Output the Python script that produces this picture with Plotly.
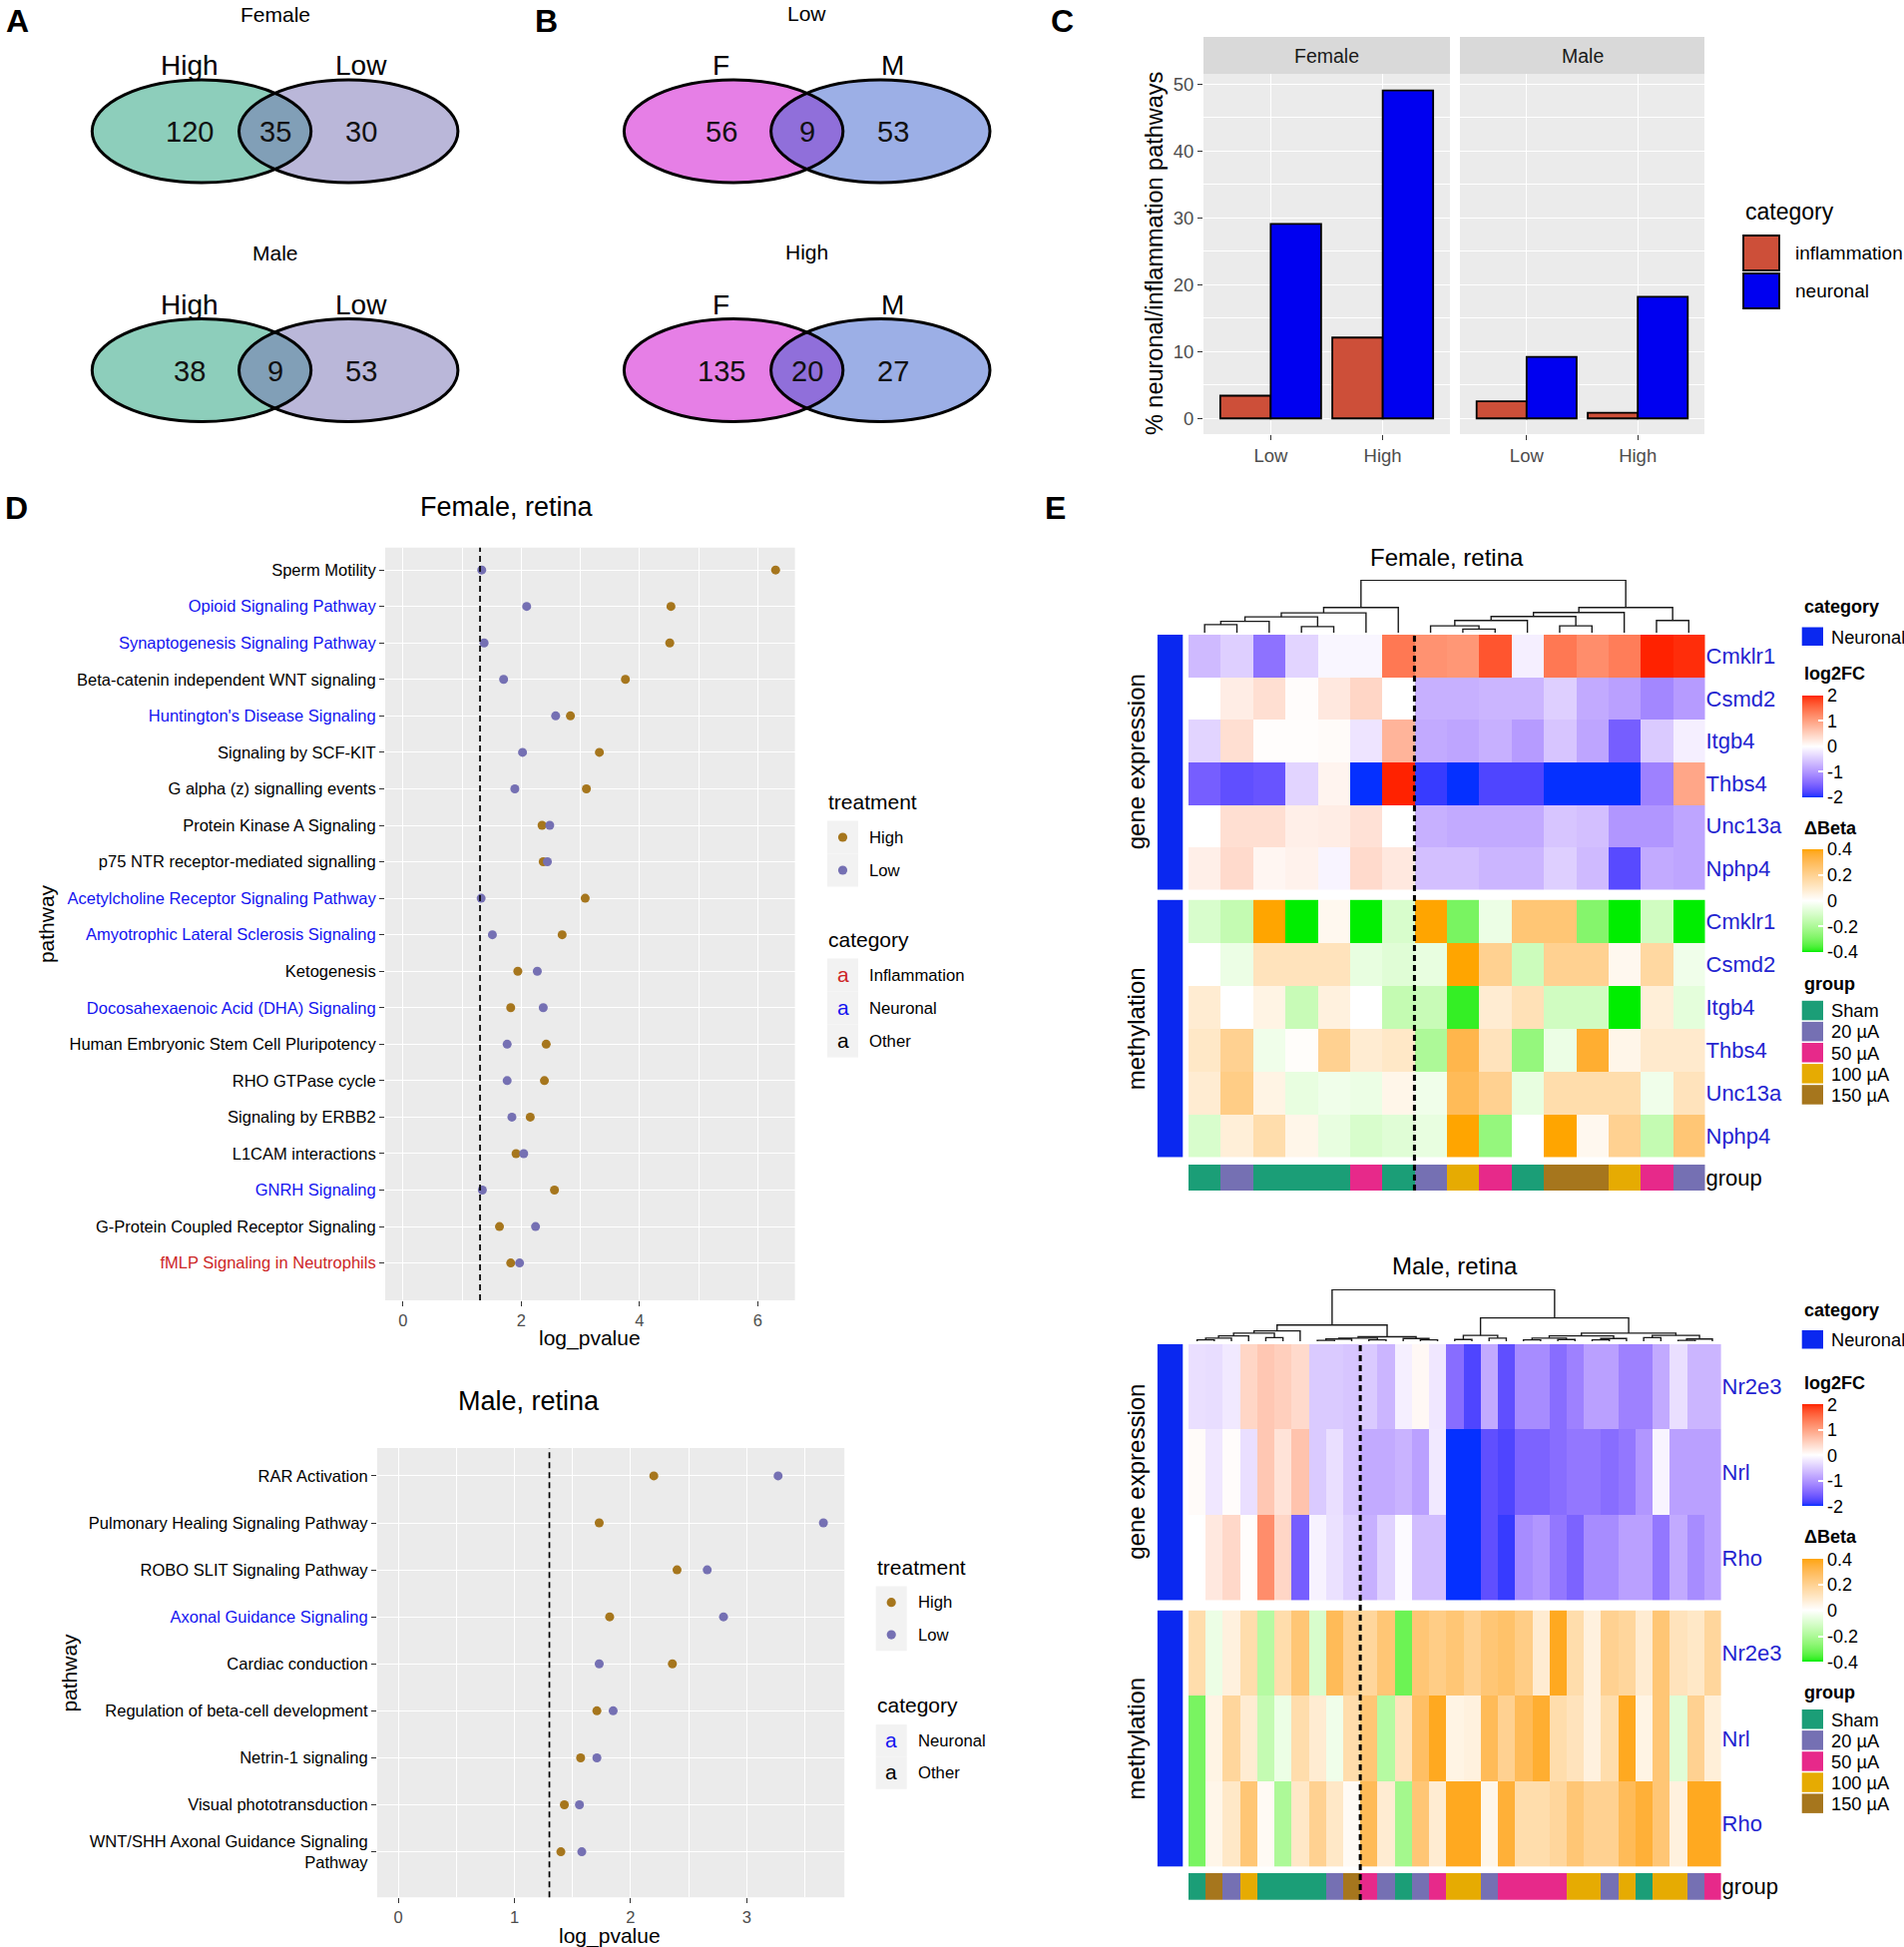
import textwrap
import numpy as np
import plotly.graph_objects as go

# ===================== DATA =====================
# Panel A: Venn counts [only-left, overlap, only-right]
A_TITLES = ["Female", "Male"]
A_SETS = ["High", "Low"]
A_FEMALE_COUNTS = [120, 35, 30]
A_MALE_COUNTS = [38, 9, 53]
# Panel B
B_TITLES = ["Low", "High"]
B_SETS = ["F", "M"]
B_LOW_COUNTS = [56, 9, 53]
B_HIGH_COUNTS = [135, 20, 27]

# Panel C: % neuronal / inflammation pathways
C_FACETS = ["Female", "Male"]
C_DOSES = ["Low", "High"]
C_CATEGORIES = ["inflammation", "neuronal"]
C_FEMALE_INFLAMMATION = [3.4, 12.1]
C_FEMALE_NEURONAL = [29.1, 49.1]
C_MALE_INFLAMMATION = [2.55, 0.85]
C_MALE_NEURONAL = [9.2, 18.2]

# Panel D: pathway enrichment (-log10 p)
P_CUTOFF = 0.05
DF_PATHWAYS = ["Sperm Motility", "Opioid Signaling Pathway", "Synaptogenesis Signaling Pathway",
               "Beta-catenin independent WNT signaling", "Huntington's Disease Signaling",
               "Signaling by SCF-KIT", "G alpha (z) signalling events", "Protein Kinase A Signaling",
               "p75 NTR receptor-mediated signalling", "Acetylcholine Receptor Signaling Pathway",
               "Amyotrophic Lateral Sclerosis Signaling", "Ketogenesis",
               "Docosahexaenoic Acid (DHA) Signaling", "Human Embryonic Stem Cell Pluripotency",
               "RHO GTPase cycle", "Signaling by ERBB2", "L1CAM interactions", "GNRH Signaling",
               "G-Protein Coupled Receptor Signaling", "fMLP Signaling in Neutrophils"]
DF_CATEGORY = ["Other", "Neuronal", "Neuronal", "Other", "Neuronal", "Other", "Other", "Other", "Other",
               "Neuronal", "Neuronal", "Other", "Neuronal", "Other", "Other", "Other", "Other",
               "Neuronal", "Other", "Inflammation"]
DF_HIGH = [6.30, 4.53, 4.51, 3.76, 2.83, 3.32, 3.10, 2.35, 2.37, 3.08, 2.69, 1.94, 1.82, 2.42, 2.39,
           2.15, 1.91, 2.56, 1.63, 1.82]
DF_LOW = [1.33, 2.09, 1.37, 1.70, 2.58, 2.02, 1.89, 2.48, 2.44, 1.32, 1.51, 2.27, 2.37, 1.76, 1.76,
          1.84, 2.04, 1.34, 2.24, 1.97]

DM_PATHWAYS = ["RAR Activation", "Pulmonary Healing Signaling Pathway", "ROBO SLIT Signaling Pathway",
               "Axonal Guidance Signaling", "Cardiac conduction", "Regulation of beta-cell development",
               "Netrin-1 signaling", "Visual phototransduction",
               "WNT/SHH Axonal Guidance Signaling Pathway"]
DM_CATEGORY = ["Other", "Other", "Other", "Neuronal", "Other", "Other", "Other", "Other", "Other"]
DM_HIGH = [2.20, 1.73, 2.40, 1.82, 2.36, 1.71, 1.57, 1.43, 1.40]
DM_LOW = [3.27, 3.66, 2.66, 2.80, 1.73, 1.85, 1.71, 1.56, 1.58]

# Panel E: heatmaps
GROUP_LEVELS = ["Sham", "20 µA", "50 µA", "100 µA", "150 µA"]

EF_GENES = ["Cmklr1", "Csmd2", "Itgb4", "Thbs4", "Unc13a", "Nphp4"]
EF_LOG2FC = [
    [-0.65, -0.45, -1.35, -0.4, -0.08, -0.08, 1.4, 1.15, 1.1, 1.7, -0.15, 1.4, 1.2, 1.35, 2.0, 1.95],
    [0.0, 0.2, 0.35, 0.03, 0.25, 0.45, 0.0, -0.75, -0.75, -0.7, -0.7, -0.45, -0.8, -0.9, -1.15, -0.95],
    [-0.4, 0.35, 0.02, 0.02, 0.05, -0.25, 0.8, -0.8, -0.85, -0.75, -0.95, -0.55, -0.85, -1.55, -0.5, -0.15],
    [-1.55, -1.7, -1.65, -0.4, 0.12, -2.2, 2.1, -1.9, -2.1, -1.8, -1.8, -2.2, -2.2, -2.2, -1.2, 0.95],
    [0.0, 0.35, 0.35, 0.18, 0.2, 0.32, 0.0, -0.75, -0.8, -0.8, -0.8, -0.55, -0.6, -1.0, -1.0, -0.85],
    [0.18, 0.4, 0.1, 0.15, -0.1, 0.4, 0.25, -0.6, -0.6, -0.7, -0.7, -0.45, -0.65, -1.75, -0.8, -0.85],
]
EF_DBETA = [
    [-0.1, -0.15, 0.4, -0.4, 0.03, -0.4, -0.1, 0.4, -0.3, -0.05, 0.25, 0.25, -0.28, -0.4, -0.12, -0.4],
    [0.0, -0.05, 0.12, 0.12, 0.12, -0.06, -0.08, -0.06, 0.4, 0.2, -0.13, 0.2, 0.2, 0.03, 0.17, -0.04],
    [0.08, 0.0, 0.05, -0.14, 0.06, 0.0, -0.15, -0.14, -0.38, 0.08, 0.13, -0.12, -0.12, -0.4, 0.07, -0.07],
    [0.1, 0.2, -0.04, 0.01, 0.2, 0.08, 0.1, -0.2, 0.32, 0.12, -0.25, -0.05, 0.36, 0.04, 0.09, 0.09],
    [0.08, 0.22, 0.05, -0.06, -0.04, -0.05, 0.04, -0.04, 0.3, 0.2, -0.06, 0.15, 0.15, 0.15, -0.04, 0.12],
    [-0.1, 0.07, 0.15, 0.04, -0.06, -0.1, -0.08, -0.06, 0.4, -0.25, 0.0, 0.4, 0.03, 0.2, -0.15, 0.25],
]
EF_GROUP = ["Sham", "20 µA", "Sham", "Sham", "Sham", "50 µA", "Sham", "20 µA", "100 µA", "50 µA",
            "Sham", "150 µA", "150 µA", "100 µA", "50 µA", "20 µA"]
EF_SPLIT = 7
# column dendrogram: (height, left, right), leaves = column index
EF_TREE = (130, (62, (49, (39, (28, (20, 0, 1), 2), (15, 3, 4)), 5), 6),
           (62, (50, (40, (30, (17, 7, (9, 8, 9)), 10), (17, 11, 12)), 13), (30, 14, 15)))

EM_GENES = ["Nr2e3", "Nrl", "Rho"]
EM_LOG2FC = [
    [-0.3, -0.32, -0.2, 0.45, 0.6, 0.52, 0.4, -0.5, -0.5, -0.55, -0.5, -0.7, -0.15, 0.08, -0.22,
     -1.4, -1.8, -0.8, -1.7, -1.1, -1.1, -1.4, -1.2, -0.9, -0.9, -1.2, -1.2, -0.8, -0.3, -0.7, -0.7],
    [0.05, -0.22, 0.03, -0.3, 0.6, 0.3, 0.65, -0.5, -0.3, -0.55, -0.8, -0.8, -0.72, -0.9, -0.2,
     -2.1, -2.1, -1.7, -1.8, -1.5, -1.5, -1.4, -1.3, -1.3, -1.4, -1.3, -1.0, -0.1, -0.9, -0.9, -0.9],
    [0.0, 0.25, 0.42, 0.02, 1.2, 0.45, -1.55, -0.12, -0.28, -0.45, -0.75, -0.42, -0.05, -0.62, -0.62,
     -2.1, -2.1, -1.7, -1.9, -1.1, -1.0, -1.3, -1.5, -1.1, -1.1, -0.9, -0.9, -1.3, -0.8, -1.1, -0.9],
]
EM_DBETA = [
    [0.15, -0.05, 0.06, 0.15, -0.18, 0.15, 0.25, -0.1, 0.3, 0.2, 0.18, 0.25, -0.32, 0.25, 0.22,
     0.25, 0.2, 0.25, 0.27, 0.22, 0.08, 0.38, 0.15, 0.06, 0.2, 0.18, 0.08, 0.25, 0.12, 0.1, 0.18],
    [-0.3, 0.05, 0.18, 0.08, -0.15, -0.05, 0.15, 0.08, -0.04, 0.15, 0.25, -0.18, 0.12, 0.28, 0.38,
     0.05, 0.06, 0.3, 0.2, 0.3, 0.36, 0.15, 0.12, 0.06, 0.15, 0.38, 0.05, 0.25, -0.08, 0.2, 0.07],
    [-0.3, 0.04, 0.1, 0.25, 0.02, -0.2, 0.1, 0.2, 0.1, 0.02, 0.3, 0.08, -0.22, 0.25, 0.08,
     0.38, 0.38, 0.04, 0.35, 0.15, 0.15, 0.18, 0.25, 0.2, 0.2, 0.3, 0.35, 0.25, 0.06, 0.38, 0.38],
]
EM_GROUP = ["Sham", "150 µA", "20 µA", "100 µA", "Sham", "Sham", "Sham", "Sham", "20 µA", "150 µA",
            "50 µA", "20 µA", "Sham", "20 µA", "50 µA", "100 µA", "100 µA", "20 µA", "50 µA", "50 µA",
            "50 µA", "50 µA", "100 µA", "100 µA", "20 µA", "100 µA", "Sham", "100 µA", "100 µA",
            "20 µA", "50 µA"]
EM_SPLIT = 10
EM_TREE = (115,
           (36, (23, (18, (12, (7, (3, 0, 1), 2), 3), (8, 4, 5)), 6),
                (10, (7, (5, (2, 7, 8), 9), (3, 10, 11)), (6, 12, (3, 13, 14)))),
           (52, (13, (4, 15, 16), (7, 17, 18)),
                (18, (12, (7, (3, 19, 20), (4, 21, 22)), (6, (3, 23, 24), 25)),
                     (13, (8, 26, 27), (5, (2, 28, 29), 30)))))

# ===================== STYLE =====================
W, H = 1908, 1951
FONT = "Liberation Sans, Arial, Helvetica, sans-serif"
PANEL_BG = "#EBEBEB"
STRIP_BG = "#D9D9D9"
C_COLORS = {"inflammation": "#CD4F39", "neuronal": "#0000F0"}
TREAT_COLORS = {"High": "#A6761D", "Low": "#7570B3"}
CAT_TEXT = {"Inflammation": "#CD2626", "Neuronal": "#1414F0", "Other": "black"}
GROUP_COLORS = ["#1B9E77", "#7570B3", "#E7298A", "#E6AB02", "#A6761D"]
NEURONAL_BAR = "#0A28F0"
ROWLAB = "#2424D0"


def PX(x):
    return x / W


def PY(y):
    return 1 - y / H


ann, shp = [], []


def txt(x, y, s, size, color="black", xa="center", ya="middle", angle=0):
    ann.append(dict(x=PX(x), y=PY(y), xref="paper", yref="paper", text=s, showarrow=False,
                    xanchor=xa, yanchor=ya, textangle=angle,
                    font=dict(family=FONT, size=size, color=color)))


def rect(x0, y0, x1, y1, fill, line=None, lw=0, layer="above"):
    shp.append(dict(type="rect", xref="paper", yref="paper", x0=PX(x0), x1=PX(x1),
                    y0=PY(y1), y1=PY(y0), fillcolor=fill, layer=layer,
                    line=dict(color=line or "rgba(0,0,0,0)", width=lw)))


def ellipse(cx, cy, rx, ry, fill="rgba(0,0,0,0)", line="rgba(0,0,0,0)", lw=0):
    shp.append(dict(type="circle", xref="paper", yref="paper", x0=PX(cx - rx), x1=PX(cx + rx),
                    y0=PY(cy + ry), y1=PY(cy - ry), fillcolor=fill, line=dict(color=line, width=lw)))


# ---- LAB colour interpolation (like ComplexHeatmap colorRamp2) ----
def _lin(c):
    c = c / 255
    return c / 12.92 if c <= 0.04045 else ((c + 0.055) / 1.055) ** 2.4


def _gam(c):
    c = 12.92 * c if c <= 0.0031308 else 1.055 * max(c, 0) ** (1 / 2.4) - 0.055
    return int(max(0, min(255, round(c * 255))))


def rgb2lab(h):
    r, g, b = [_lin(int(h[i:i + 2], 16)) for i in (1, 3, 5)]
    X = (0.4124 * r + 0.3576 * g + 0.1805 * b) / 0.95047
    Y = 0.2126 * r + 0.7152 * g + 0.0722 * b
    Z = (0.0193 * r + 0.1192 * g + 0.9505 * b) / 1.08883
    f = lambda t: t ** (1 / 3) if t > 0.008856 else 7.787 * t + 16 / 116
    fx, fy, fz = f(X), f(Y), f(Z)
    return 116 * fy - 16, 500 * (fx - fy), 200 * (fy - fz)


def lab2rgb(lab):
    L, a, b = lab
    fy = (L + 16) / 116
    fx, fz = fy + a / 500, fy - b / 200
    fi = lambda t: t ** 3 if t ** 3 > 0.008856 else (t - 16 / 116) / 7.787
    X, Y, Z = 0.95047 * fi(fx), fi(fy), 1.08883 * fi(fz)
    r = 3.2406 * X - 1.5372 * Y - 0.4986 * Z
    g = -0.9689 * X + 1.8758 * Y + 0.0415 * Z
    bb = 0.0557 * X - 0.2040 * Y + 1.0570 * Z
    return "rgb(%d,%d,%d)" % (_gam(r), _gam(g), _gam(bb))


def lab_scale(stops, n=41):
    zmin, zmax = stops[0][0], stops[-1][0]
    out = []
    for k in range(n):
        v = zmin + (zmax - zmin) * k / (n - 1)
        for (v0, c0), (v1, c1) in zip(stops[:-1], stops[1:]):
            if v0 <= v <= v1 + 1e-12:
                t = (v - v0) / (v1 - v0)
                l0, l1 = rgb2lab(c0), rgb2lab(c1)
                out.append([k / (n - 1), lab2rgb([p + (q - p) * t for p, q in zip(l0, l1)])])
                break
    return out


FC_SCALE = lab_scale([(-2, "#0530FF"), (0, "#FFFFFF"), (2, "#FF2200")])
BETA_SCALE = lab_scale([(-0.4, "#00EE00"), (0, "#FFFFFF"), (0.4, "#FFA500")])

fig = go.Figure()
layout = dict(width=W, height=H, margin=dict(l=0, r=0, t=0, b=0), paper_bgcolor="white",
              plot_bgcolor="white", showlegend=False, barmode="group", bargap=0.1, bargroupgap=0,
              font=dict(family=FONT))

BLANK = dict(showgrid=False, zeroline=False, showticklabels=False, ticks="", showline=False)


def axes(i, xdom, ydom, xa, ya):
    s = "" if i == 1 else str(i)
    layout["xaxis" + s] = dict(domain=[PX(xdom[0]), PX(xdom[1])], anchor="y" + s, **xa)
    layout["yaxis" + s] = dict(domain=[PY(ydom[1]), PY(ydom[0])], anchor="x" + s, **ya)
    return "x" + s, "y" + s


def panel_bg(xr, yr):
    shp.append(dict(type="rect", xref=xr + " domain", yref=yr + " domain", x0=0, x1=1, y0=0, y1=1,
                    fillcolor=PANEL_BG, line=dict(width=0), layer="below"))


# ===================== PANEL LETTERS =====================
for L, (x, y) in zip("ABCDE", [(17, 21), (547, 21), (1064, 21), (16, 509), (1057, 509)]):
    txt(x, y, "<b>%s</b>" % L, 32)


# ===================== PANELS A & B (Venn) =====================
def venn(cxl, cxr, cy, title, title_y, sets, counts, fl, fr):
    rx, ry = 109.7, 51.5
    ellipse(cxl, cy, rx, ry, fill=fl)
    ellipse(cxr, cy, rx, ry, fill=fr)
    ellipse(cxl, cy, rx, ry, line="black", lw=3)
    ellipse(cxr, cy, rx, ry, line="black", lw=3)
    xs = [cxl - 12.5, (cxl + cxr) / 2, cxr + 12.5]
    for x, c in zip(xs, counts):
        txt(x, cy + 1, str(c), 29, "#111111")
    txt(xs[0], cy - 66, sets[0], 28)
    txt(xs[2], cy - 66, sets[1], 28)
    txt(xs[1], title_y, title, 21)


venn(202, 349.2, 131.5, A_TITLES[0], 15, A_SETS, A_FEMALE_COUNTS,
     "rgba(27,158,119,0.5)", "rgba(117,112,179,0.5)")
venn(202, 349.2, 371, A_TITLES[1], 254, A_SETS, A_MALE_COUNTS,
     "rgba(27,158,119,0.5)", "rgba(117,112,179,0.5)")
venn(735.1, 882.3, 131.5, B_TITLES[0], 14, B_SETS, B_LOW_COUNTS,
     "rgba(205,0,205,0.5)", "rgba(58,95,205,0.5)")
venn(735.1, 882.3, 371, B_TITLES[1], 253, B_SETS, B_HIGH_COUNTS,
     "rgba(205,0,205,0.5)", "rgba(58,95,205,0.5)")

# ===================== PANEL C =====================
tickstyle = dict(ticks="outside", ticklen=5, tickwidth=1.3, tickcolor="#333333")
c_vals = {"Female": [C_FEMALE_INFLAMMATION, C_FEMALE_NEURONAL],
          "Male": [C_MALE_INFLAMMATION, C_MALE_NEURONAL]}
c_x = [(1206, 1453), (1463, 1708)]
for k, facet in enumerate(C_FACETS):
    xa = dict(type="category", categoryorder="array", categoryarray=C_DOSES, range=[-0.6, 1.6],
              showgrid=True, gridcolor="white", gridwidth=1.4, zeroline=False, showline=False,
              tickfont=dict(size=18.5, color="#4D4D4D", family=FONT), **tickstyle)
    ya = dict(range=[-2.35, 51.57], tick0=0, dtick=10, showgrid=True, gridcolor="white", gridwidth=1.4,
              minor=dict(dtick=5, tick0=0, showgrid=True, gridcolor="white", gridwidth=0.7),
              zeroline=False, showline=False, showticklabels=(k == 0),
              tickfont=dict(size=18.5, color="#4D4D4D", family=FONT))
    if k == 0:
        ya.update(tickstyle)
    xr, yr = axes(k + 1, c_x[k], (74, 435), xa, ya)
    panel_bg(xr, yr)
    for cat, vals in zip(C_CATEGORIES, c_vals[facet]):
        fig.add_trace(go.Bar(x=C_DOSES, y=vals, xaxis=xr, yaxis=yr, offsetgroup=cat,
                             marker=dict(color=C_COLORS[cat], line=dict(color="black", width=1.8)),
                             hoverinfo="skip"))
    rect(c_x[k][0], 37, c_x[k][1], 74, STRIP_BG)
    txt((c_x[k][0] + c_x[k][1]) / 2, 56, facet, 19.5, "#1A1A1A")

txt(1156.6, 254.5, "% neuronal/inflammation pathways", 23.5, angle=-90)
txt(1747, 212, "category", 23, xa="left")
for i, cat in enumerate(C_CATEGORIES):
    y0 = 236 + i * 38
    rect(1747, y0, 1783, y0 + 35, C_COLORS[cat], "black", 1.8)
    txt(1797, y0 + 17.5, cat, 19, xa="left")


# ===================== PANEL D =====================
def dot_panel(idx, xdom, ydom, xrange, yrange, major, pathways, cats, high, low, title, title_xy,
              xtitle_xy, ytitle_xy, leg_x, leg_title_y, key_h, cat_title_y):
    n = len(pathways)
    ticktext = []
    for name, cat in zip(pathways, cats):
        lines = textwrap.wrap(name, 40)
        ticktext.append("<br>".join("<span style='color:%s'>%s</span>" % (CAT_TEXT[cat], l) for l in lines))
    xa = dict(range=xrange, tick0=0, dtick=major, showgrid=True, gridcolor="white", gridwidth=1.4,
              minor=dict(dtick=major / 2, tick0=0, showgrid=True, gridcolor="white", gridwidth=0.7),
              zeroline=False, showline=False, tickfont=dict(size=16.5, color="#4D4D4D", family=FONT),
              **tickstyle)
    ya = dict(range=yrange, tickvals=list(range(n)), ticktext=ticktext, showgrid=True, gridcolor="white",
              gridwidth=1.4, zeroline=False, showline=False,
              tickfont=dict(size=16.5, color="black", family=FONT), **tickstyle)
    xr, yr = axes(idx, xdom, ydom, xa, ya)
    panel_bg(xr, yr)
    thr = -np.log10(P_CUTOFF)
    shp.append(dict(type="line", xref=xr, yref=yr + " domain", x0=thr, x1=thr, y0=0, y1=1,
                    line=dict(color="black", width=1.7, dash="6px,4px")))
    for tname, vals in (("High", high), ("Low", low)):
        fig.add_trace(go.Scatter(x=vals, y=list(range(n)), mode="markers", xaxis=xr, yaxis=yr,
                                 marker=dict(size=9, color=TREAT_COLORS[tname]), hoverinfo="skip"))
    txt(title_xy[0], title_xy[1], title, 27)
    txt(xtitle_xy[0], xtitle_xy[1], "log_pvalue", 21)
    txt(ytitle_xy[0], ytitle_xy[1], "pathway", 21, angle=-90)
    kw = 31
    # treatment legend
    txt(leg_x, leg_title_y, "treatment", 21, xa="left")
    y0 = leg_title_y + 19.5
    for i, tname in enumerate(["High", "Low"]):
        top = y0 + i * key_h
        rect(leg_x + 1, top, leg_x + 1 + kw, top + key_h, "#F2F2F2")
        cy = top + key_h / 2
        ellipse(leg_x + 1 + kw / 2, cy, 4.6, 4.6, fill=TREAT_COLORS[tname])
        txt(leg_x + 41, cy, tname, 16.7, xa="left")
    # category legend
    present = [c for c in ["Inflammation", "Neuronal", "Other"] if c in cats]
    txt(leg_x, cat_title_y, "category", 21, xa="left")
    y0 = cat_title_y + 19.5
    for i, c in enumerate(present):
        top = y0 + i * key_h
        rect(leg_x + 1, top, leg_x + 1 + kw, top + key_h, "#F2F2F2")
        cy = top + key_h / 2
        txt(leg_x + 1 + kw / 2, cy - 1, "a", 21, CAT_TEXT[c])
        txt(leg_x + 41, cy, c, 16.7, xa="left")


dot_panel(3, (386, 796.6), (548.7, 1302.9), [-0.303, 6.627], [20.02, -0.614], 2,
          DF_PATHWAYS, DF_CATEGORY, DF_HIGH, DF_LOW, "Female, retina", (507.5, 507.5),
          (591, 1341), (46.6, 925.5), 828, 803, 33, 941)
dot_panel(4, (377.9, 846.2), (1451, 1901.3), [-0.182, 3.841], [8.97, -0.593], 1,
          DM_PATHWAYS, DM_CATEGORY, DM_HIGH, DM_LOW, "Male, retina", (530, 1404),
          (611, 1940), (68.6, 1676), 876.7, 1570, 32.4, 1708.4)


# ===================== PANEL E =====================
def dendro(tree):
    xs, ys = [], []

    def walk(node):
        if isinstance(node, int):
            return float(node), 0.0
        h, l, r = node
        xl, hl = walk(l)
        xr_, hr = walk(r)
        xs.extend([xl, xl, xr_, xr_, None])
        ys.extend([hl, h, h, hr, None])
        return (xl + xr_) / 2, h

    walk(tree)
    return xs, ys


def step_scale(colors):
    n = len(colors)
    out = []
    for i, c in enumerate(colors):
        out += [[i / n, c], [(i + 1) / n, c]]
    return out


def cbar(span, vals, labels):
    return dict(x=PX(1805.7), xanchor="left", y=PY((span[0] + span[1]) / 2), yanchor="middle",
                len=(span[1] - span[0]) / H, lenmode="fraction", thickness=21.3, outlinewidth=0,
                xpad=0, ypad=0, tickvals=vals, ticktext=labels, ticks="inside", ticklen=5,
                tickwidth=1.5, tickcolor="white", tickfont=dict(size=18, family=FONT, color="black"))


def heat_panel(base, hx, dendro_y, gene_y, meth_y, group_y, genes, fc, beta, groups, split, tree,
               title, title_y, leg):
    n = len(groups)
    nr = len(genes)
    xrng = [-0.5, n - 0.5]
    # dendrogram
    xr, yr = axes(base, hx, dendro_y, dict(range=xrng, **BLANK), dict(range=[0, tree[0] + 0.5], **BLANK))
    dx, dy = dendro(tree)
    fig.add_trace(go.Scatter(x=dx, y=dy, mode="lines", xaxis=xr, yaxis=yr,
                             line=dict(color="#1A1A1A", width=1.4), hoverinfo="skip"))
    rowax = dict(range=[nr - 0.5, -0.5], tickvals=list(range(nr)), ticktext=genes, side="right",
                 showticklabels=True, showgrid=False, zeroline=False, ticks="", showline=False,
                 tickfont=dict(size=22, color=ROWLAB, family=FONT))
    # gene expression
    gx, gy = axes(base + 1, hx, gene_y, dict(range=xrng, **BLANK), rowax)
    fig.add_trace(go.Heatmap(z=fc, x=list(range(n)), y=list(range(nr)), xaxis=gx, yaxis=gy,
                             colorscale=FC_SCALE, zmin=-2, zmax=2, hoverinfo="skip",
                             colorbar=cbar(leg["fc"], [-2, -1, 0, 1, 2], ["-2", "-1", "0", "1", "2"])))
    # methylation
    mx, my = axes(base + 2, hx, meth_y, dict(range=xrng, **BLANK), dict(rowax))
    fig.add_trace(go.Heatmap(z=beta, x=list(range(n)), y=list(range(nr)), xaxis=mx, yaxis=my,
                             colorscale=BETA_SCALE, zmin=-0.4, zmax=0.4, hoverinfo="skip",
                             colorbar=cbar(leg["beta"], [-0.4, -0.2, 0, 0.2, 0.4],
                                           ["-0.4", "-0.2", "0", "0.2", "0.4"])))
    # group annotation
    grp_ax = dict(range=[0.5, -0.5], tickvals=[0], ticktext=["group"], side="right", showticklabels=True,
                  showgrid=False, zeroline=False, ticks="", showline=False,
                  tickfont=dict(size=22, color="black", family=FONT))
    qx, qy = axes(base + 3, hx, group_y, dict(range=xrng, **BLANK), grp_ax)
    fig.add_trace(go.Heatmap(z=[[GROUP_LEVELS.index(g) for g in groups]], x=list(range(n)), y=[0],
                             xaxis=qx, yaxis=qy, colorscale=step_scale(GROUP_COLORS), zmin=-0.5,
                             zmax=len(GROUP_LEVELS) - 0.5, showscale=False, hoverinfo="skip"))
    # category (row) annotation
    for j, ydom in enumerate([gene_y, meth_y]):
        cx, cy = axes(base + 4 + j, (1159.7, 1185.4), ydom, dict(range=[-0.5, 0.5], **BLANK),
                      dict(range=[nr - 0.5, -0.5], **BLANK))
        fig.add_trace(go.Heatmap(z=[[0] for _ in genes], x=[0], y=list(range(nr)), xaxis=cx, yaxis=cy,
                                 colorscale=[[0, NEURONAL_BAR], [1, NEURONAL_BAR]], showscale=False,
                                 hoverinfo="skip"))
    # split line
    shp.append(dict(type="line", xref=gx, yref="paper", x0=split - 0.5, x1=split - 0.5,
                    y0=PY(group_y[1]), y1=PY(gene_y[0]),
                    line=dict(color="black", width=3, dash="6px,4px")))
    # texts
    txt((hx[0] + hx[1]) / 2, title_y, title, 24)
    txt(1138.5, (gene_y[0] + gene_y[1]) / 2, "gene expression", 24, angle=-90)
    txt(1138.5, (meth_y[0] + meth_y[1]) / 2, "methylation", 24, angle=-90)
    lx = 1805.7
    txt(lx, leg["cat"], "<b>category</b>", 18, xa="left")
    rect(lx, leg["cat"] + 20, lx + 21.3, leg["cat"] + 38.5, NEURONAL_BAR)
    txt(lx + 27, leg["cat"] + 29.5, "Neuronal", 18.3, xa="left")
    txt(lx, leg["fc_title"], "<b>log2FC</b>", 18, xa="left")
    txt(lx, leg["beta_title"], "<b>ΔBeta</b>", 18, xa="left")
    txt(lx, leg["group"], "<b>group</b>", 18, xa="left")
    for i, (g, c) in enumerate(zip(GROUP_LEVELS, GROUP_COLORS)):
        top = leg["group"] + 17 + i * 21.1
        rect(lx, top, lx + 21.3, top + 19.5, c)
        txt(lx + 27, top + 10, g, 18.3, xa="left")


heat_panel(5, (1191, 1708.5), (581, 634), (636, 891.6), (901.6, 1159.7), (1167, 1193),
           EF_GENES, EF_LOG2FC, EF_DBETA, EF_GROUP, EF_SPLIT, EF_TREE, "Female, retina", 558,
           dict(cat=608.5, fc=(697, 798.6), fc_title=675, beta=(851, 954), beta_title=829.5,
                group=985.8))
heat_panel(11, (1191, 1724.6), (1292, 1344), (1346.8, 1603.6), (1613.6, 1870.5), (1876.7, 1904),
           EM_GENES, EM_LOG2FC, EM_DBETA, EM_GROUP, EM_SPLIT, EM_TREE, "Male, retina", 1268,
           dict(cat=1313, fc=(1407, 1509.4), fc_title=1385.5, beta=(1562.5, 1665.3), beta_title=1540,
                group=1696))

layout["annotations"] = ann
layout["shapes"] = shp
fig.update_layout(**layout)
fig.write_html("out.html", config={"displayModeBar": False},
               post_script="document.body.style.margin='0';")
